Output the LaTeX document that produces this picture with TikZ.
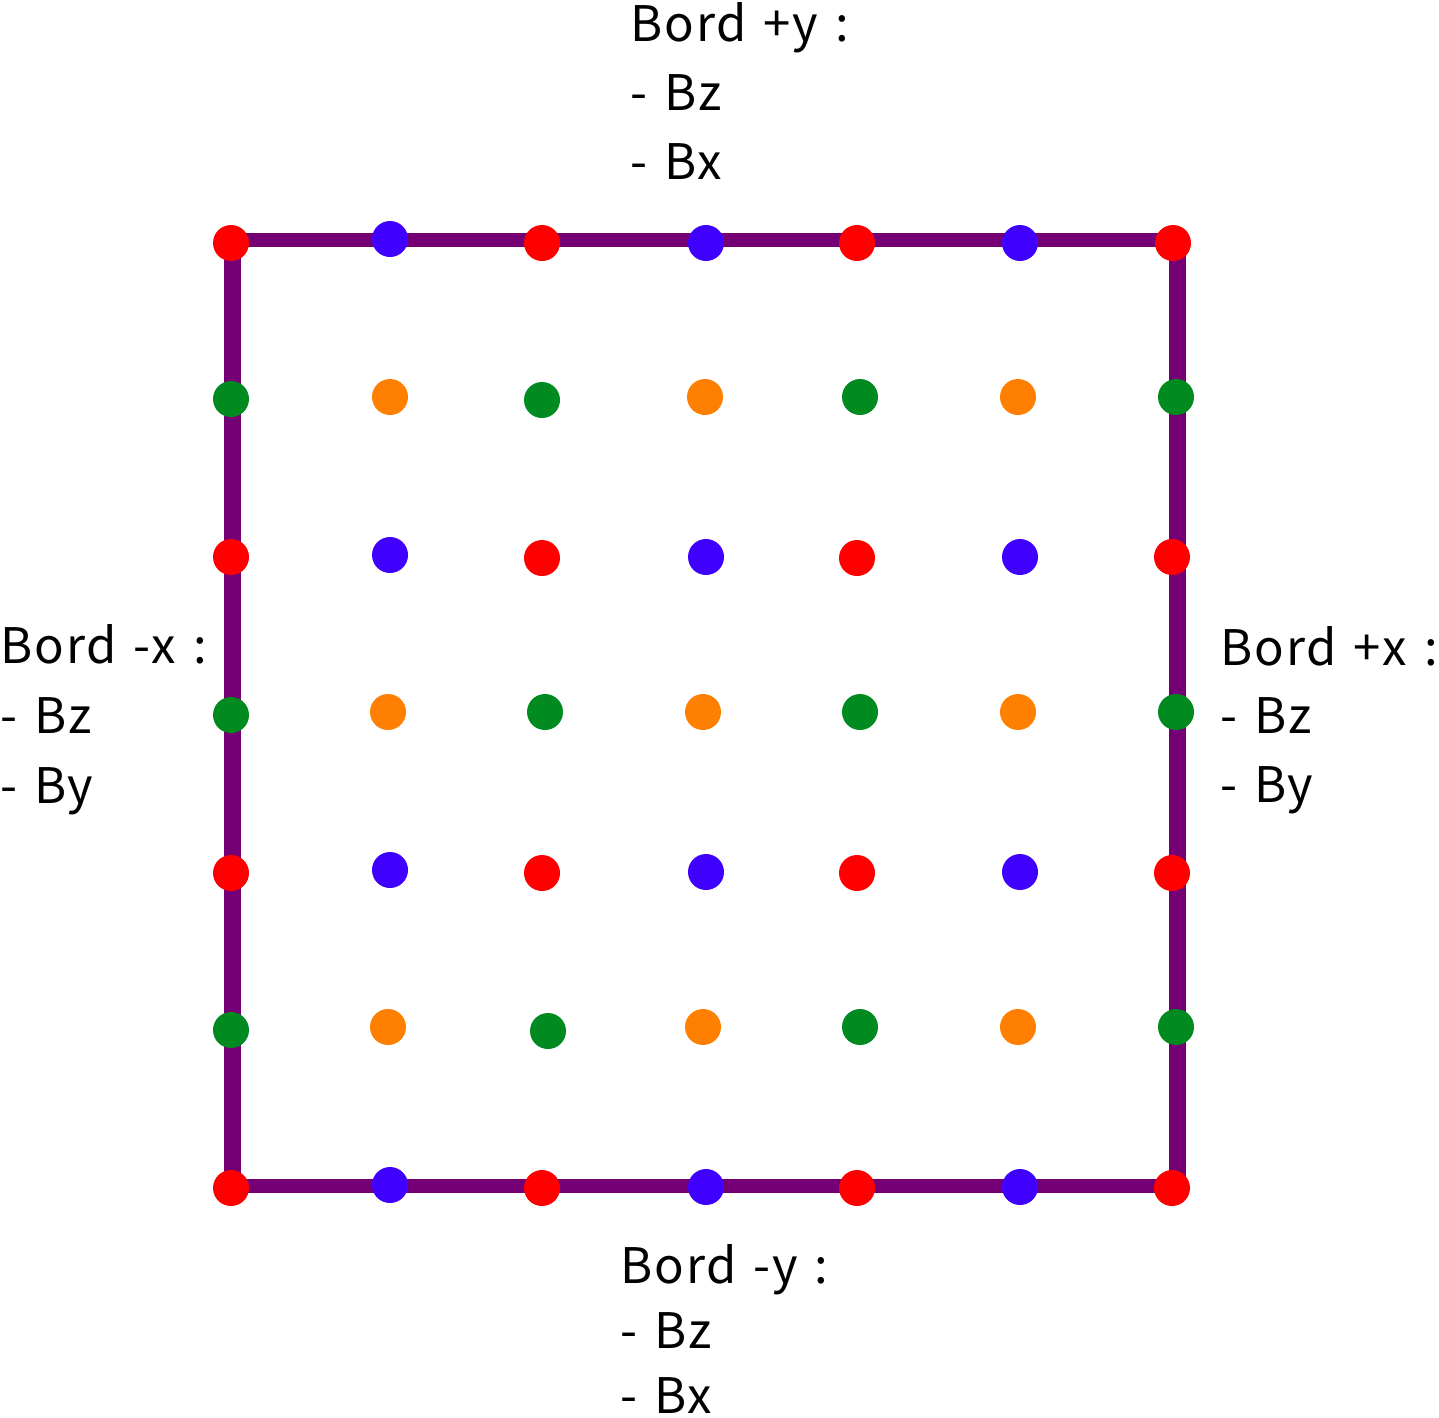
\documentclass[tikz,border=0pt]{standalone}
\usepackage{fontspec}
\setmainfont{Noto Sans CJK SC}[LetterSpace=4,WordSpace=1.3]
\definecolor{cred}{HTML}{FF0000}
\definecolor{cblue}{HTML}{4000FF}
\definecolor{cgreen}{HTML}{008A20}
\definecolor{corange}{HTML}{FF7F00}
\definecolor{cpurple}{HTML}{750075}
\begin{document}
\begin{tikzpicture}[x=1pt,y=-1pt,
  dot/.style={circle,inner sep=0pt,minimum size=36pt,draw=none},
  rd/.style={dot,fill=cred},
  bl/.style={dot,fill=cblue},
  gr/.style={dot,fill=cgreen},
  og/.style={dot,fill=corange},
  edgeh/.style={draw=cpurple,line width=14pt},
  edgev/.style={draw=cpurple,line width=17pt},
  lbl/.style={anchor=base west,inner sep=0pt,font=\fontsize{49}{60}\selectfont}]
\useasboundingbox (0,0) rectangle (1439,1417);
\coordinate (tl) at (232,240);
\coordinate (tr) at (1177,240);
\coordinate (bl) at (232,1186);
\coordinate (br) at (1177,1186);
\draw[edgev] (tl) -- (bl);
\draw[edgev] (tr) -- (br);
\draw[edgeh] (tl) -- (tr);
\draw[edgeh] (bl) -- (br);
% row 1
\node[rd] (r1c1) at (231,243) {};
\node[bl] (r1c2) at (390,239) {};
\node[rd] (r1c3) at (542,243) {};
\node[bl] (r1c4) at (706,243) {};
\node[rd] (r1c5) at (857,243) {};
\node[bl] (r1c6) at (1020,243) {};
\node[rd] (r1c7) at (1173,243) {};
% row 2
\node[gr] (r2c1) at (231,399) {};
\node[og] (r2c2) at (390,397) {};
\node[gr] (r2c3) at (542,400) {};
\node[og] (r2c4) at (705,397) {};
\node[gr] (r2c5) at (860,397) {};
\node[og] (r2c6) at (1018,397) {};
\node[gr] (r2c7) at (1176,397) {};
% row 3
\node[rd] (r3c1) at (231,557) {};
\node[bl] (r3c2) at (390,555) {};
\node[rd] (r3c3) at (542,558) {};
\node[bl] (r3c4) at (706,557) {};
\node[rd] (r3c5) at (857,558) {};
\node[bl] (r3c6) at (1020,557) {};
\node[rd] (r3c7) at (1172,557) {};
% row 4
\node[gr] (r4c1) at (231,715) {};
\node[og] (r4c2) at (388,712) {};
\node[gr] (r4c3) at (545,712) {};
\node[og] (r4c4) at (703,712) {};
\node[gr] (r4c5) at (860,712) {};
\node[og] (r4c6) at (1018,712) {};
\node[gr] (r4c7) at (1176,712) {};
% row 5
\node[rd] (r5c1) at (231,873) {};
\node[bl] (r5c2) at (390,870) {};
\node[rd] (r5c3) at (542,873) {};
\node[bl] (r5c4) at (706,872) {};
\node[rd] (r5c5) at (857,873) {};
\node[bl] (r5c6) at (1020,872) {};
\node[rd] (r5c7) at (1172,873) {};
% row 6
\node[gr] (r6c1) at (231,1030) {};
\node[og] (r6c2) at (388,1027) {};
\node[gr] (r6c3) at (548,1031) {};
\node[og] (r6c4) at (703,1027) {};
\node[gr] (r6c5) at (860,1027) {};
\node[og] (r6c6) at (1018,1027) {};
\node[gr] (r6c7) at (1176,1027) {};
% row 7
\node[rd] (r7c1) at (231,1188) {};
\node[bl] (r7c2) at (390,1185) {};
\node[rd] (r7c3) at (542,1188) {};
\node[bl] (r7c4) at (706,1187) {};
\node[rd] (r7c5) at (857,1188) {};
\node[bl] (r7c6) at (1020,1187) {};
\node[rd] (r7c7) at (1172,1188) {};
% labels
\node[lbl] (ty1) at (630,41) {Bord +y :};
\node[lbl] (ty2) at (630,110) {- Bz};
\node[lbl] (ty3) at (630,179) {- Bx};
\node[lbl] (lx1) at (0,663) {Bord -x :};
\node[lbl] (lx2) at (0,733) {- Bz};
\node[lbl] (lx3) at (0,803) {- By};
\node[lbl] (rx1) at (1220,665) {Bord +x :};
\node[lbl] (rx2) at (1220,733) {- Bz};
\node[lbl] (rx3) at (1220,802) {- By};
\node[lbl] (by1) at (620,1283) {Bord -y :};
\node[lbl] (by2) at (620,1348) {- Bz};
\node[lbl] (by3) at (620,1413) {- Bx};
\end{tikzpicture}
\end{document}
